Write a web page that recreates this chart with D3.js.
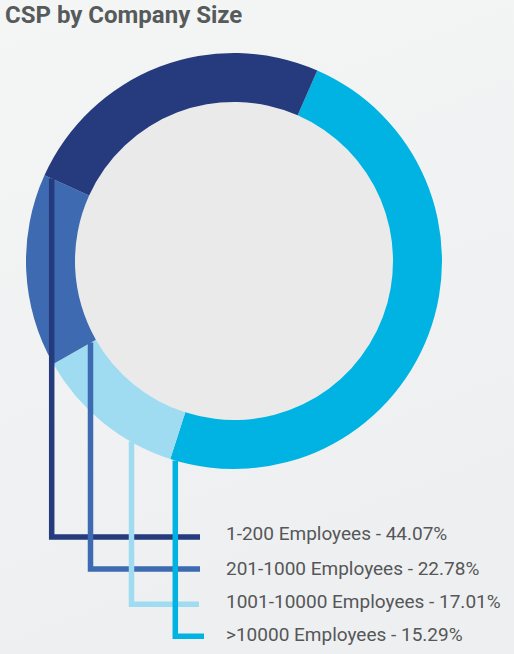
<!DOCTYPE html>
<html>
<head>
<meta charset="utf-8">
<script src="https://cdn.jsdelivr.net/npm/d3@7"></script>
<style>
  html, body { margin: 0; padding: 0; }
  body { width: 514px; height: 654px; overflow: hidden; font-family: Roboto, sans-serif; }
</style>
</head>
<body>
<svg id="chart" width="514" height="654"></svg>
<script>
// legend entries, as printed
const categories = ['1-200 Employees', '201-1000 Employees', '1001-10000 Employees', '>10000 Employees'];
const percents = [44.07, 22.78, 17.01, 15.29];
const colors = ['#263a7e', '#3d6ab1', '#9fdbf1', '#00b3e2'];

// ring as drawn (clockwise from the navy/cyan seam), shares
const ringOrder = ['>10000 Employees', '1001-10000 Employees', '201-1000 Employees', '1-200 Employees'];
const ringShares = [48.4, 11.8, 15.0, 24.8];

const width = 514, height = 654;
const cx = 234, cy = 261;
const outerR = 208, innerR = 159;
const ringStart = 23.6 * Math.PI / 180;

// leader layout (not data): vertical x, elbow y, end x
const leaderXs = [51.7, 90.5, 131.5, 175.3];
const leaderYs = [537, 569, 604.3, 636.2];
const leaderEnds = [200, 200, 199, 204];
const textYs = [540, 575, 607.7, 641];

const svg = d3.select('#chart');

// faint background gradient
const defs = svg.append('defs');
const grad = defs.append('linearGradient')
  .attr('id', 'bg').attr('x1', '0').attr('y1', '0').attr('x2', '0.3').attr('y2', '1');
grad.append('stop').attr('offset', '0%').attr('stop-color', '#f4f5f5');
grad.append('stop').attr('offset', '100%').attr('stop-color', '#eeeff0');
svg.append('rect').attr('width', width).attr('height', height).attr('fill', 'url(#bg)');

svg.append('text')
  .attr('x', 5).attr('y', 23)
  .attr('font-family', 'Roboto, sans-serif')
  .attr('font-weight', 700)
  .attr('font-size', 24)
  .attr('fill', '#565a5b')
  .text('CSP by Company Size');

const color = d3.scaleOrdinal().domain(categories).range(colors);

const pie = d3.pie()
  .sort(null)
  .value(d => d.share)
  .startAngle(ringStart)
  .endAngle(ringStart + 2 * Math.PI);

const arcs = pie(ringOrder.map((name, i) => ({ name, share: ringShares[i] })));
const arc = d3.arc().innerRadius(innerR).outerRadius(outerR);

const g = svg.append('g').attr('transform', `translate(${cx},${cy})`);

g.append('circle').attr('r', innerR).attr('fill', '#eaeaea');

g.selectAll('path.slice')
  .data(arcs)
  .enter()
  .append('path')
  .attr('class', 'slice')
  .attr('d', arc)
  .attr('fill', d => color(d.data.name));

// leader starts at the lowest point of its own slice on that vertical
function leaderTop(name, x) {
  const a = arcs.find(d => d.data.name === name);
  for (let y = cy + outerR; y > cy - outerR; y -= 0.5) {
    const dx = x - cx, dy = y - cy;
    const r = Math.hypot(dx, dy);
    if (r < innerR || r > outerR) continue;
    let ang = Math.atan2(dx, -dy);
    while (ang < ringStart) ang += 2 * Math.PI;
    if (ang >= a.startAngle && ang <= a.endAngle) return y;
  }
  return cy;
}

const line = d3.line();
svg.selectAll('path.leader')
  .data(categories)
  .enter()
  .append('path')
  .attr('class', 'leader')
  .attr('fill', 'none')
  .attr('stroke', d => color(d))
  .attr('stroke-width', 5.5)
  .attr('d', (d, i) => {
    const x = leaderXs[i], y = leaderYs[i];
    return line([[x, leaderTop(d, x)], [x, y], [leaderEnds[i], y]]);
  });

svg.selectAll('text.legend')
  .data(categories)
  .enter()
  .append('text')
  .attr('class', 'legend')
  .attr('x', 226)
  .attr('y', (d, i) => textYs[i])
  .attr('font-family', 'Roboto, sans-serif')
  .attr('font-size', 19)
  .attr('fill', '#555759')
  .text((d, i) => `${d} - ${percents[i].toFixed(2)}%`);
</script>
</body>
</html>
